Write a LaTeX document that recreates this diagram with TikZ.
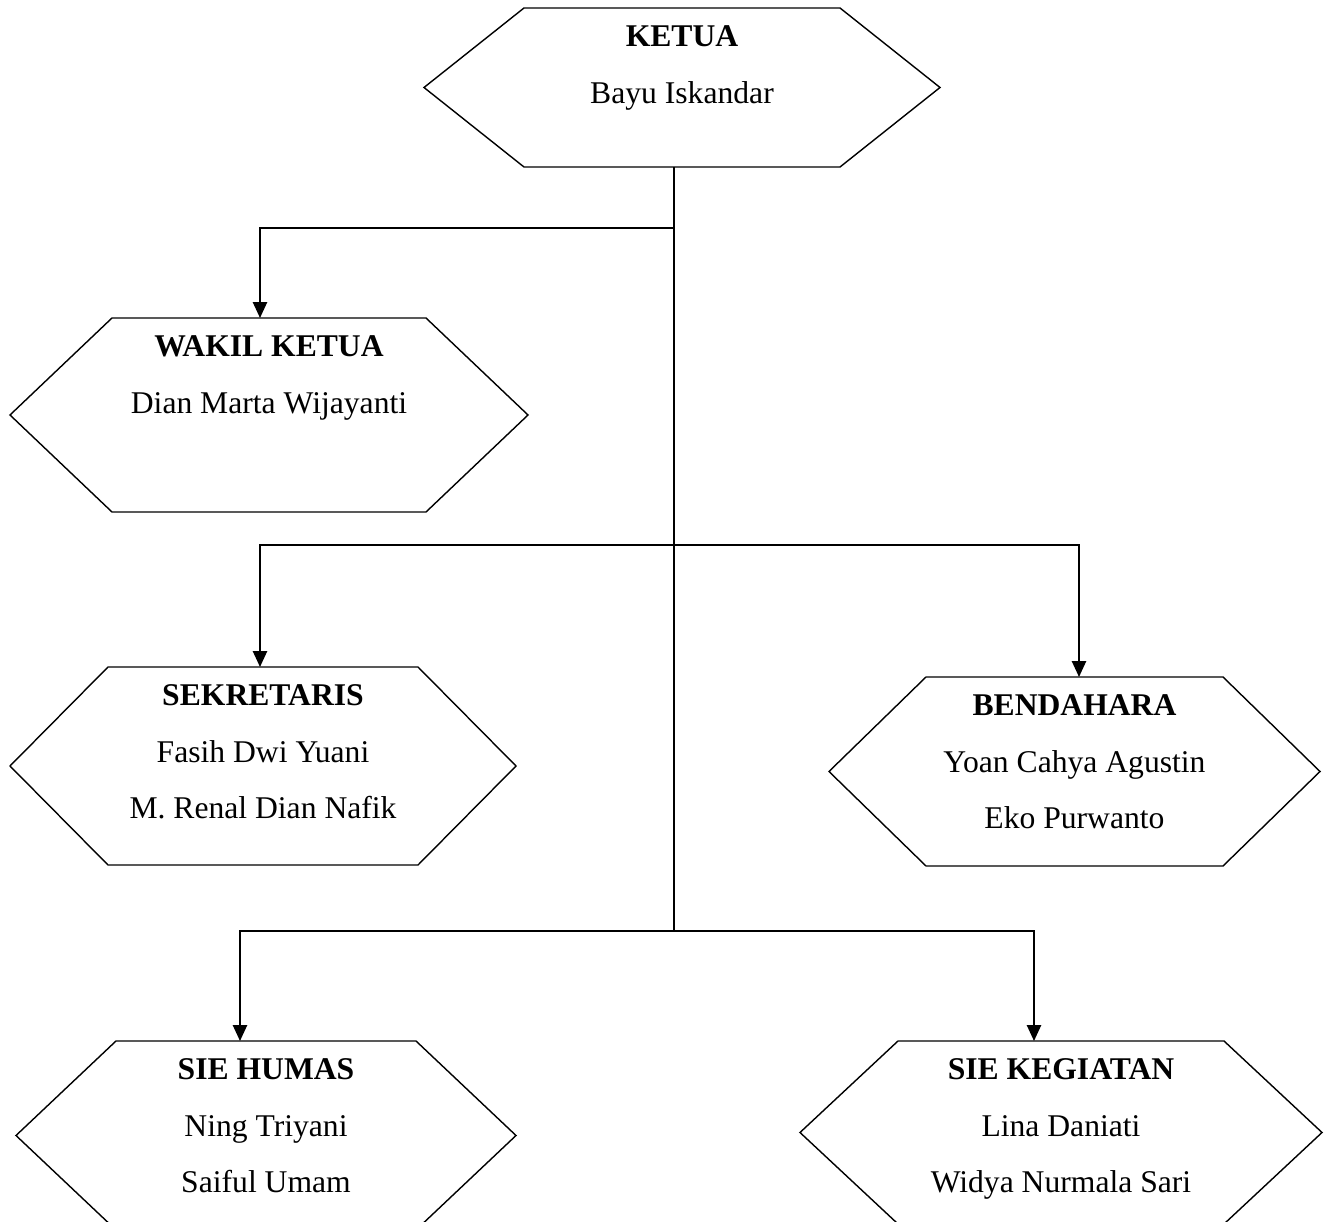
\documentclass[tikz,border=0pt]{standalone}
\usepackage{fontspec}
\setmainfont{Liberation Serif}
\usetikzlibrary{calc, positioning, arrows.meta}

\begin{document}
\begin{tikzpicture}[x=0.02cm, y=-0.02cm,
		hex/.style={line width=0.8pt, line join=miter},
		link/.style={line width=1.1pt},
		arr/.style={link, -{Triangle[length=9pt, width=8pt]}},
		txt/.style={align=center, inner sep=0pt, font=\fontsize{18}{32}\selectfont}]
		\useasboundingbox (0,0) rectangle (1332,1222);
		\clip (0,0) rectangle (1332,1222);

		% hexagon boxes: name / left / right / top / bottom / inset
		\foreach \nm/\xl/\xr/\yt/\yb/\dx in {ketua/424/940/8/167/100, wakil/10/528/318/512/102, sekre/10/516/667/865/98, benda/829/1320/677/866/97, humas/16/516/1041/1230/100, kegiat/800/1322/1041/1224/98}
		{
			\draw[hex] (\xl,{(\yt+\yb)/2}) -- (\xl+\dx,\yt) -- (\xr-\dx,\yt) -- (\xr,{(\yt+\yb)/2}) -- (\xr-\dx,\yb) -- (\xl+\dx,\yb) -- cycle;
			\coordinate (\nm-top) at ({(\xl+\xr)/2},\yt);
		}

		\node[txt, below=10pt of ketua-top] (ketua) {\textbf{KETUA}\\Bayu Iskandar};
		\node[txt, below=10pt of wakil-top] (wakil) {\textbf{WAKIL KETUA}\\Dian Marta Wijayanti};
		\node[txt, below=10pt of sekre-top] (sekre) {\textbf{SEKRETARIS}\\Fasih Dwi Yuani\\M. Renal Dian Nafik};
		\node[txt, below=10pt of benda-top] (benda) {\textbf{BENDAHARA}\\Yoan Cahya Agustin\\Eko Purwanto};
		\node[txt, below=10pt of humas-top] (humas) {\textbf{SIE HUMAS}\\Ning Triyani\\Saiful Umam};
		\node[txt, below=10pt of kegiat-top] (kegiat) {\textbf{SIE KEGIATAN}\\Lina Daniati\\Widya Nurmala Sari};

		% branch points and arrow ends
		\coordinate (ketua-out) at (674,167);
		\coordinate (j1) at (674,228);
		\coordinate (j2) at (674,545);
		\coordinate (j3) at (674,931);
		\coordinate (wakil-in) at (260,318);
		\coordinate (sekre-in) at (260,667);
		\coordinate (benda-in) at (1079,677);
		\coordinate (humas-in) at (240,1041);
		\coordinate (kegiat-in) at (1034,1041);

		\draw[link] (ketua-out) -- (j3);
		\draw[arr] (j1) -| (wakil-in);
		\foreach \to in {sekre, benda}
			\draw[arr] (j2) -| (\to-in);
		\foreach \to in {humas, kegiat}
			\draw[arr] (j3) -| (\to-in);
	\end{tikzpicture}
\end{document}
